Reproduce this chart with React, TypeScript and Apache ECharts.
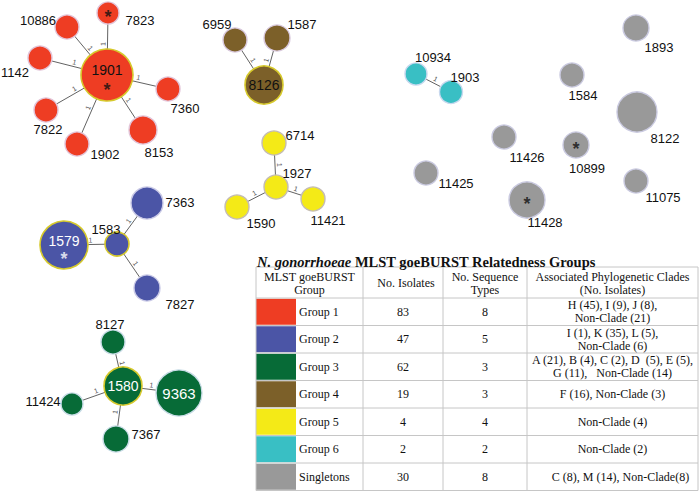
import React, { useEffect, useRef } from "react";
import * as echarts from "echarts";

// ---------- Table data ----------
const groupNames = ["Group 1", "Group 2", "Group 3", "Group 4", "Group 5", "Group 6", "Singletons"];
const groupIsolates = [83, 47, 62, 19, 4, 2, 30];
const groupSeqTypes = [8, 5, 3, 3, 4, 2, 8];
const groupClades: string[][] = [
  ["H (45), I (9), J (8),", "Non-Clade (21)"],
  ["I (1), K (35), L (5),", "Non-Clade (6)"],
  ["A (21), B (4), C (2), D  (5), E (5),", "G (11),   Non-Clade (14)"],
  ["F (16), Non-Clade (3)"],
  ["Non-Clade (4)"],
  ["Non-Clade (2)"],
  ["C (8), M (14), Non-Clade(8)"],
];
const groupColors = ["#ee3d23", "#4b55a6", "#076b37", "#7c6029", "#f4ea17", "#39bfc4", "#999999"];

// ---------- Network data (sequence types) ----------
const stNames = [
  "1901", "7823", "10886", "1142", "7360", "7822", "1902", "8153",
  "8126", "6959", "1587",
  "1927", "6714", "1590", "11421",
  "10934", "1903",
  "1893", "1584", "8122", "11426", "10899", "11425", "11075", "11428",
  "1583", "1579", "7363", "7827",
  "1580", "8127", "11424", "9363", "7367",
];
const stGroup = [
  0, 0, 0, 0, 0, 0, 0, 0,
  3, 3, 3,
  4, 4, 4, 4,
  5, 5,
  6, 6, 6, 6, 6, 6, 6, 6,
  1, 1, 1, 1,
  2, 2, 2, 2, 2,
];
const links: [string, string][] = [
  ["1901", "7823"], ["1901", "10886"], ["1901", "1142"], ["1901", "7360"],
  ["1901", "7822"], ["1901", "1902"], ["1901", "8153"],
  ["8126", "6959"], ["8126", "1587"],
  ["1927", "6714"], ["1927", "1590"], ["1927", "11421"],
  ["10934", "1903"],
  ["1583", "1579"], ["1583", "7363"], ["1583", "7827"],
  ["1580", "8127"], ["1580", "11424"], ["1580", "9363"], ["1580", "7367"],
];
const linkDistance = 1; // single-locus variants
const founders = ["1901", "8126", "1579", "1583", "1580"];
const starred = ["1901", "7823", "10899", "11428", "1579"];

// ---------- Layout (positions in page pixels) ----------
const stX = [107, 108, 67, 40, 168, 46, 77, 143, 264, 235, 277, 276, 274, 237, 313, 416, 451, 636, 572, 637, 504, 576, 426, 636, 527, 117, 64, 147, 147, 123, 113, 72, 179, 116];
const stY = [75, 13, 27, 58, 89, 110, 144, 130, 85, 40, 38, 187, 143, 207, 199, 74, 92, 28, 75, 112, 137, 145, 173, 181, 200, 244, 245, 203, 288, 386, 342, 404, 393, 439];
const stRadius = [26, 11, 12, 12, 12, 12, 12, 14, 19, 12, 13, 12, 12, 12, 12, 11, 11.5, 13, 12, 20, 12, 13, 12, 12, 18, 12, 24, 16, 13, 19, 12, 11, 23, 13];
const labelDX = [0, 32, -29, -25, 17, 2, 28, 16, 0, -18, 25, 21, 26, 24, 15, 17, 14, 23, 11, 28, 23, 11, 30, 27, 18, -11, 0, 33, 33, 0, -3, -29, 0, 30];
const labelDY = [-5, 7, -7, 14, 19, 19, 10, 22, 0, -16, -14, -14, -8, 16, 21, -17, -15, 19, 20, 26, 20, 23, 10, 16, 22, -15, -4, -1, 16, 0, -18, -3, 0, -5];
const insideLabelColor: Record<string, string> = { "1901": "#111", "8126": "#111", "1579": "#fff", "1580": "#fff", "9363": "#fff" };
const starDY: Record<string, number> = { "1901": 15, "7823": 4, "10899": 4, "11428": 4, "1579": 14 };
const starColor: Record<string, string> = { "1579": "#fff" };

const nodeBorder = ["#e2c4d8", "#c9c9e6", "#c8dce6", "#d8c8dc", "#c4bcb4", "#c8d8ee", "#cacae0"];

export default function App() {
  const ref = useRef<HTMLDivElement>(null);

  useEffect(() => {
    if (!ref.current) return;
    const chart = echarts.init(ref.current, undefined, { renderer: "svg" });

    const nodes = stNames.map((name, i) => {
      const g = stGroup[i];
      const inside = insideLabelColor[name] !== undefined;
      const isFounder = founders.includes(name);
      return {
        name,
        value: [stX[i], stY[i]],
        symbolSize: stRadius[i] * 2,
        itemStyle: {
          color: groupColors[g],
          borderColor: isFounder ? "#d6c92c" : nodeBorder[g],
          borderWidth: isFounder ? 1.6 : 1.4,
        },
        label: {
          show: true,
          position: "inside",
          offset: [labelDX[i], labelDY[i]],
          formatter: name,
          color: inside ? insideLabelColor[name] : "#111",
          fontSize: inside ? (name === "9363" ? 15 : 14) : 13,
          fontFamily: "Liberation Sans",
        },
      };
    });

    const starData = starred.map((name) => {
      const i = stNames.indexOf(name);
      return {
        value: [stX[i], stY[i]],
        label: { offset: [0, starDY[name]], color: starColor[name] || "#111" },
      };
    });

    const colX = [256, 363, 443, 527, 698];
    const headTop = 267;
    const headBottom = 298;
    const rowH = 27.5;
    const lineColor = "#c6c6c6";
    const serif = "Liberation Serif";
    const elements: any[] = [];
    const txt = (text: string, x: number, y: number, align = "center", extra: any = {}) => ({
      type: "text",
      x,
      y,
      silent: true,
      z: 20,
      style: {
        text,
        fill: "#111",
        fontSize: 12,
        fontFamily: serif,
        align,
        verticalAlign: "middle",
        textAlign: align,
        textVerticalAlign: "middle",
        ...extra,
      },
    });

    // title
    elements.push({
      type: "text",
      x: 257,
      y: 262,
      silent: true,
      z: 20,
      style: {
        text: "{i|N. gonorrhoeae} MLST goeBURST Relatedness Groups",
        fill: "#111",
        fontSize: 14.5,
        fontWeight: "bold",
        fontFamily: serif,
        verticalAlign: "middle",
        textVerticalAlign: "middle",
        rich: {
          i: { fontStyle: "italic", fontWeight: "bold", fontSize: 14.5, fontFamily: serif, fill: "#111" },
        },
      },
    });

    // swatches
    groupColors.forEach((c, r) => {
      elements.push({
        type: "rect",
        silent: true,
        z: 10,
        shape: { x: 256, y: headBottom + r * rowH + 0.8, width: 40, height: rowH - 1.6 },
        style: { fill: c },
      });
    });

    // horizontal lines
    const hy = [headTop, headBottom];
    for (let r = 1; r <= groupNames.length; r++) hy.push(headBottom + r * rowH);
    hy.forEach((y) => {
      elements.push({
        type: "line",
        silent: true,
        z: 12,
        shape: { x1: colX[0], y1: y, x2: colX[4], y2: y },
        style: { stroke: lineColor, lineWidth: 1 },
      });
    });
    const bottomY = hy[hy.length - 1];
    colX.forEach((x) => {
      elements.push({
        type: "line",
        silent: true,
        z: 12,
        shape: { x1: x, y1: headTop, x2: x, y2: bottomY },
        style: { stroke: lineColor, lineWidth: 1 },
      });
    });

    // header texts
    const c1 = (colX[0] + colX[1]) / 2;
    const c2 = (colX[1] + colX[2]) / 2;
    const c3 = (colX[2] + colX[3]) / 2;
    const c4 = (colX[3] + colX[4]) / 2;
    elements.push(txt("MLST goeBURST", c1, 277));
    elements.push(txt("Group", c1, 290));
    elements.push(txt("No. Isolates", c2 + 3, 283));
    elements.push(txt("No. Sequence", c3, 277));
    elements.push(txt("Types", c3, 290));
    elements.push(txt("Associated Phylogenetic Clades", c4, 277));
    elements.push(txt("(No. Isolates)", c4, 290));

    groupNames.forEach((g, r) => {
      const cy = headBottom + r * rowH + rowH / 2;
      elements.push(txt(g, 299, cy, "left"));
      elements.push(txt(String(groupIsolates[r]), c2, cy));
      elements.push(txt(String(groupSeqTypes[r]), c3, cy));
      const lines = groupClades[r];
      if (lines.length === 1) {
        elements.push(txt(lines[0], c4 + (r === 6 ? 8 : 0), cy));
      } else {
        elements.push(txt(lines[0], c4, cy - 6.5));
        elements.push(txt(lines[1], c4, cy + 6.5));
      }
    });

    chart.setOption({
      animation: false,
      backgroundColor: "#ffffff",
      grid: { left: 0, right: 0, top: 0, bottom: 0 },
      xAxis: { type: "value", min: 0, max: 700, show: false },
      yAxis: { type: "value", min: 0, max: 491, inverse: true, show: false },
      series: [
        {
          type: "graph",
          coordinateSystem: "cartesian2d",
          silent: true,
          symbol: "circle",
          data: nodes,
          links: links.map(([s, t]) => ({ source: s, target: t, value: linkDistance })),
          lineStyle: { color: "#3a3a3a", width: 0.8, opacity: 1 },
          edgeLabel: {
            show: true,
            formatter: "{c}",
            position: "middle",
            distance: 1,
            fontSize: 7,
            color: "#555",
            fontFamily: "Liberation Sans",
          },
          emphasis: { disabled: true },
          z: 2,
        },
        {
          type: "scatter",
          silent: true,
          symbolSize: 1,
          itemStyle: { color: "rgba(0,0,0,0)" },
          label: {
            show: true,
            position: "inside",
            formatter: "*",
            fontSize: 18,
            fontWeight: "bold",
            fontFamily: "Liberation Sans",
          },
          data: starData,
          z: 5,
        },
      ],
      graphic: { elements },
    });

    return () => chart.dispose();
  }, []);

  return (
    <div
      ref={ref}
      style={{ position: "absolute", left: 0, top: 0, width: 700, height: 491, background: "#fff" }}
    />
  );
}
